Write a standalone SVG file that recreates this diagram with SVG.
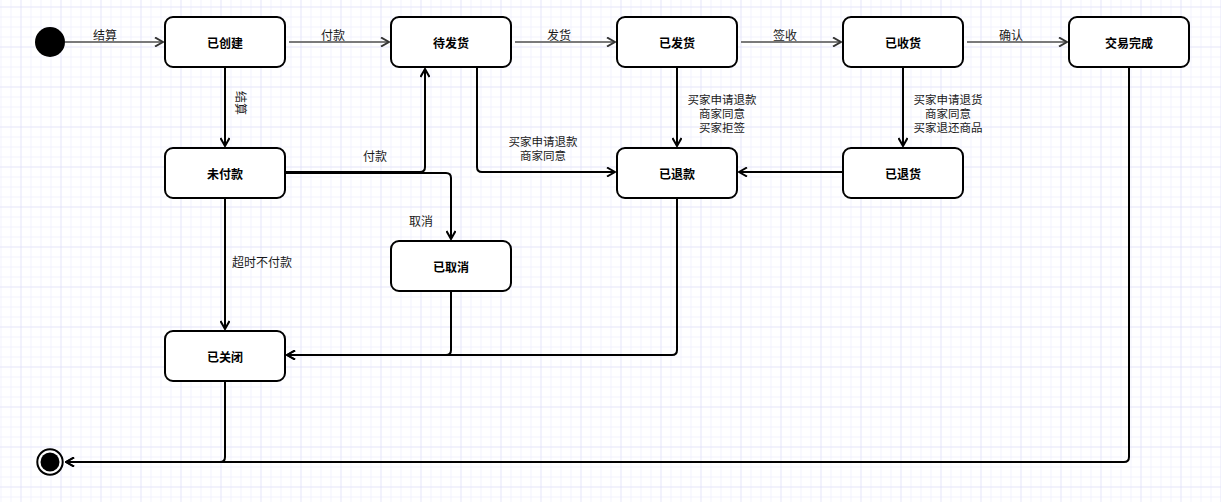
<svg xmlns="http://www.w3.org/2000/svg" width="1221" height="502" viewBox="0 0 1221 502">
<defs>
<pattern id="gMinor" x="0.5" y="6.5" width="10" height="10" patternUnits="userSpaceOnUse">
<path d="M0,0 H10 M0,0 V10" fill="none" stroke="#e8e8fb" stroke-width="1"/>
</pattern>
<pattern id="gMajor" x="20.5" y="6.5" width="40" height="40" patternUnits="userSpaceOnUse">
<path d="M0,0 H40 M0,0 V40" fill="none" stroke="#dcdcf7" stroke-width="1"/>
</pattern>
<marker id="arr" viewBox="0 0 10 10" refX="9" refY="5" markerWidth="10" markerHeight="10" markerUnits="userSpaceOnUse" orient="auto">
<path d="M1,0.5 L9,5 L1,9.5" fill="none" stroke="#000" stroke-width="2"/>
</marker>
<marker id="arrG" viewBox="0 0 10 10" refX="9" refY="5" markerWidth="10" markerHeight="10" markerUnits="userSpaceOnUse" orient="auto">
<path d="M1,0.5 L9,5 L1,9.5" fill="none" stroke="#333" stroke-width="2"/>
</marker>
</defs>
<style>
.node rect{fill:#fff;stroke:#000;stroke-width:2}
.node text{font-family:"Noto Sans CJK SC","Liberation Sans",sans-serif;font-size:12px;font-weight:bold;fill:#000;text-anchor:middle;dominant-baseline:central}
.e{fill:none;stroke:#000;stroke-width:2;marker-end:url(#arr)}
.eg{fill:none;stroke:#7a7a7a;stroke-width:2;marker-end:url(#arrG)}
.lbl{font-family:"Noto Sans CJK SC","Liberation Sans",sans-serif;font-size:12px;fill:#1a1a1a;text-anchor:middle;dominant-baseline:central}
.ml{font-size:11.5px}
</style>
<rect width="1221" height="502" fill="#fff"/>
<rect width="1221" height="502" fill="url(#gMinor)"/>
<rect width="1221" height="502" fill="url(#gMajor)"/>

<g id="connectors">
<path class="eg" d="M65,42 H163"/>
<path class="eg" d="M289,42 H389"/>
<path class="eg" d="M515,42 H615"/>
<path class="eg" d="M741,42 H841"/>
<path class="eg" d="M967,42 H1067"/>
<path class="e" d="M225,67 V146"/>
<path class="e" d="M285,172 H420 Q425,172 425,167 V69"/>
<path class="e" d="M285,173 H446 Q451,173 451,178 V239"/>
<path class="e" d="M477,67 V167 Q477,172 482,172 H615"/>
<path class="e" d="M677,67 V146"/>
<path class="e" d="M903,67 V146"/>
<path class="e" d="M843,172 H739"/>
<path class="e" d="M225,198 V329"/>
<path class="e" d="M451,291 V350 Q451,355 446,355 H287"/>
<path class="e" d="M677,198 V350 Q677,355 672,355 H287"/>
<path class="e" d="M225,381 V457 Q225,462 220,462 H66"/>
<path class="e" d="M1129,67 V457 Q1129,462 1124,462 H66"/>
<text class="lbl" x="105" y="34">结算</text>
<text class="lbl" x="333" y="34">付款</text>
<text class="lbl" x="559" y="34">发货</text>
<text class="lbl" x="785" y="34">签收</text>
<text class="lbl" x="1011" y="34">确认</text>
<text class="lbl" x="0" y="0" transform="translate(241,103) rotate(90)">结算</text>
<text class="lbl" x="375" y="155">付款</text>
<text class="lbl" x="421" y="220">取消</text>
<text class="lbl ml"><tspan x="543" y="141">买家申请退款</tspan><tspan x="543" y="155">商家同意</tspan></text>
<text class="lbl ml"><tspan x="722" y="99">买家申请退款</tspan><tspan x="722" y="113">商家同意</tspan><tspan x="722" y="127">买家拒签</tspan></text>
<text class="lbl ml"><tspan x="948" y="99">买家申请退货</tspan><tspan x="948" y="113">商家同意</tspan><tspan x="948" y="127">买家退还商品</tspan></text>
<text class="lbl" x="262" y="261">超时不付款</text>
</g>

<g id="start"><circle cx="50" cy="42" r="15" fill="#000"/></g>
<g id="end"><circle cx="50" cy="462" r="12.7" fill="#fff" stroke="#000" stroke-width="2"/><circle cx="50" cy="462" r="9.5" fill="#000"/></g>

<g id="n-created" class="node"><rect x="165" y="17" width="120" height="50" rx="8"/><text x="225" y="42">已创建</text></g>
<g id="n-tosend" class="node"><rect x="391" y="17" width="120" height="50" rx="8"/><text x="451" y="42">待发货</text></g>
<g id="n-sent" class="node"><rect x="617" y="17" width="120" height="50" rx="8"/><text x="677" y="42">已发货</text></g>
<g id="n-received" class="node"><rect x="843" y="17" width="120" height="50" rx="8"/><text x="903" y="42">已收货</text></g>
<g id="n-done" class="node"><rect x="1069" y="17" width="120" height="50" rx="8"/><text x="1129" y="42">交易完成</text></g>
<g id="n-unpaid" class="node"><rect x="165" y="148" width="120" height="50" rx="8"/><text x="225" y="173">未付款</text></g>
<g id="n-refunded" class="node"><rect x="617" y="148" width="120" height="50" rx="8"/><text x="677" y="173">已退款</text></g>
<g id="n-returned" class="node"><rect x="843" y="148" width="120" height="50" rx="8"/><text x="903" y="173">已退货</text></g>
<g id="n-cancelled" class="node"><rect x="391" y="241" width="120" height="50" rx="8"/><text x="451" y="266">已取消</text></g>
<g id="n-closed" class="node"><rect x="165" y="331" width="120" height="50" rx="8"/><text x="225" y="356">已关闭</text></g>
</svg>
